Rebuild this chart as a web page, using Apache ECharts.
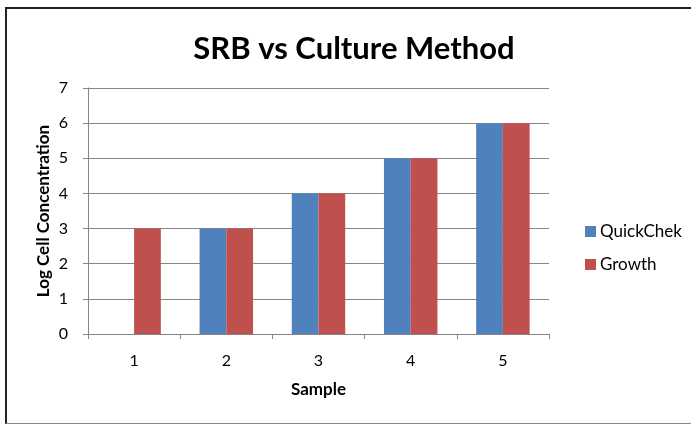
<!DOCTYPE html>
<html>
<head>
<meta charset="utf-8">
<script src="https://cdn.jsdelivr.net/npm/echarts@6/dist/echarts.min.js"></script>
<style>
  html, body { margin: 0; padding: 0; background: #fff; }
  #frame {
    position: absolute; left: 5px; top: 7px; width: 700px; height: 414px;
    border-left: 2px solid #222; border-top: 2px solid #222; border-bottom: 1px solid #888;
  }
  #main { position: absolute; left: 0; top: 0; width: 691px; height: 425px; }
</style>
</head>
<body>
<div id="frame"></div>
<div id="main"></div>
<script>
// values
var samples = ['1', '2', '3', '4', '5'];
var quickChek = [null, 3, 4, 5, 6];
var growth = [3, 3, 4, 5, 6];

var font = 'Lato, "Open Sans", sans-serif';

var myChart = echarts.init(document.getElementById('main'));
myChart.setOption({
  animation: false,
  title: {
    text: 'SRB vs Culture Method',
    left: 349,
    top: 28,
    textAlign: 'center',
    textStyle: { fontFamily: font, fontSize: 31, fontWeight: 'bold', color: '#000' }
  },
  legend: {
    orient: 'vertical',
    left: 580,
    top: 218,
    itemWidth: 11,
    itemHeight: 11,
    itemGap: 16,
    icon: 'rect',
    textStyle: { fontFamily: font, fontSize: 17, color: '#000', padding: [0, 0, 0, -1] },
    data: ['QuickChek', 'Growth']
  },
  grid: { left: 88, right: 142, top: 88, bottom: 91 },
  xAxis: {
    type: 'category',
    data: samples,
    name: 'Sample',
    nameLocation: 'middle',
    nameGap: 47,
    nameTextStyle: { fontFamily: font, fontSize: 17, fontWeight: 'bold', color: '#000' },
    axisLine: { lineStyle: { color: '#868686', width: 1 } },
    axisTick: { show: true, alignWithLabel: false, length: 5, lineStyle: { color: '#868686' } },
    axisLabel: { fontFamily: font, fontSize: 16, color: '#000', margin: 19 }
  },
  yAxis: {
    type: 'value',
    min: 0,
    max: 7,
    interval: 1,
    name: 'Log Cell Concentration',
    nameLocation: 'middle',
    nameGap: 36,
    nameMoveOverlap: false,
    nameTextStyle: { fontFamily: font, fontSize: 17, fontWeight: 'bold', color: '#000' },
    axisLine: { show: true, lineStyle: { color: '#868686', width: 1 } },
    axisTick: { show: true, inside: false, length: 5, lineStyle: { color: '#868686' } },
    axisLabel: { fontFamily: font, fontSize: 16, color: '#000', margin: 20 },
    splitLine: { lineStyle: { color: '#868686', width: 1 } }
  },
  series: [
    {
      name: 'QuickChek',
      type: 'bar',
      data: quickChek,
      itemStyle: { color: '#4F81BD' },
      barGap: '0%',
      barCategoryGap: '42%'
    },
    {
      name: 'Growth',
      type: 'bar',
      data: growth,
      itemStyle: { color: '#C0504D' },
      barGap: '0%',
      barCategoryGap: '42%'
    }
  ]
});
</script>
</body>
</html>
